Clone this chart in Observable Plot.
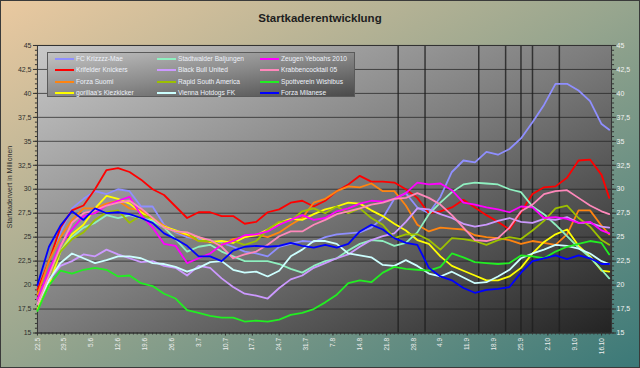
<!DOCTYPE html>
<html>
<head>
<meta charset="utf-8">
<script src="https://cdn.jsdelivr.net/npm/d3@7"></script>
<script src="https://cdn.jsdelivr.net/npm/@observablehq/plot@0.6"></script>
<style>
html,body{margin:0;padding:0;background:#fff;}
#chart{position:relative;width:640px;height:368px;box-sizing:border-box;border:1px solid #3a3a3a;
  background:linear-gradient(to bottom right,#eac9a0 0%,#96a58e 50%,#3b7978 100%);
  font-family:"Liberation Sans",Arial,sans-serif;overflow:hidden;}
#title{position:absolute;left:-1px;top:-1px;width:640px;height:30px;text-align:center;line-height:37px;
  font-size:11.5px;font-weight:bold;color:#1e1e1e;}
#plot{position:absolute;left:-1px;top:29px;}
#ylabel{position:absolute;left:-91px;top:181px;width:200px;text-align:center;font-size:7px;color:#2e2e2e;
  transform:rotate(-90deg);transform-origin:50% 50%;line-height:10px;}
#legend{position:absolute;left:46px;top:51px;width:308px;height:45px;box-sizing:border-box;
  border:1px solid #5a5a5a;background:linear-gradient(to bottom right,#c2c2c2 0%,#8a8a8a 50%,#4a4a4a 100%);}
.li{position:absolute;height:10px;font-size:6.6px;line-height:10px;color:#eef2fa;white-space:nowrap;}
.li span.sw{position:absolute;left:0;top:4px;width:19px;height:2px;}
.li span.tx{position:absolute;left:21px;top:0;}
</style>
</head>
<body>
<div id="chart">
  <div id="title">Startkaderentwicklung</div>
  <div id="plot"></div>
  <div id="ylabel">Startkaderwert in Millionen</div>
  <div id="legend"></div>
</div>
<script>
// sample days (offset from 22.5.)
const days = [0,3,6,9,12,15,18,21,24,27,30,33,36,39,42,45,48,51,54,57,60,63,66,69,72,75,78,81,84,87,90,93,96,99,102,105,108,111,114,117,120,123,126,129,132,135,138,141,144,147,149];

const names = ["FC Krizzzz-Mae","Krifelder Knickers","Forza Suomi","gorillaa's Kiezkicker",
  "Stadtwalder Baljungen","Black Bull United","Rapid South America","Vienna Hotdogs FK",
  "Zeugen Yeboahs 2010","Krabbencocktail 05","Spottverein Wishibus","Forza Milanese"];
const colors = ["#8f8fff","#ff0000","#ff8410","#ffff00","#8ff0c0","#cc99ff","#9cc000","#ccffff","#ff00ff","#ff88bb","#22ee22","#0000ff"];

const krizzzz = [19.5,22.5,25.5,28.0,29.0,29.8,29.5,30.0,29.8,28.2,28.2,26.3,25.5,25.0,24.8,24.6,24.4,24.0,23.5,23.3,23.0,24.0,24.3,24.6,24.5,25.0,25.3,25.4,25.5,26.0,27.0,29.0,29.6,28.1,27.5,29.2,31.8,33.0,32.8,33.9,33.6,34.2,35.3,37.0,38.8,41.0,41.0,40.3,39.2,36.8,36.2];
const krifelder = [19.5,22.5,26.0,27.8,28.3,30.0,32.0,32.2,31.8,31.0,30.0,29.4,28.2,27.0,27.6,27.6,27.2,27.2,26.4,26.6,27.6,27.9,28.6,28.8,28.2,28.8,29.8,30.5,31.4,30.8,30.8,30.7,30.0,29.1,27.5,27.7,28.1,28.9,28.1,27.3,26.6,25.8,27.6,29.5,30.2,30.3,31.2,33.0,33.1,31.5,29.1];
const suomi = [19.0,22.5,25.0,26.8,28.0,28.0,28.5,28.8,28.0,27.8,27.0,26.2,25.6,25.2,24.6,24.5,24.2,24.8,25.0,25.3,25.0,25.5,26.3,27.0,28.6,29.0,29.8,30.3,30.2,30.6,29.8,29.8,28.3,26.3,25.6,26.0,25.9,25.8,25.2,25.0,24.9,24.7,24.3,24.6,24.4,24.2,25.3,27.8,27.8,26.2,25.3];
const gorillaa = [17.5,20.0,23.5,25.3,26.3,28.0,29.3,29.0,28.5,27.6,26.8,26.1,25.7,25.3,25.0,24.5,24.6,24.4,25.0,25.2,25.8,26.5,26.9,26.8,27.4,27.9,28.2,28.6,28.5,27.8,27.2,26.4,25.7,24.7,24.3,23.0,22.0,21.5,21.0,20.5,20.5,20.9,21.8,23.3,24.5,25.3,25.8,24.1,23.0,21.5,21.4];
const stadtwalder = [18.0,21.0,23.5,25.0,26.0,26.5,27.3,27.0,27.3,27.0,26.7,26.0,24.8,23.5,24.0,24.2,23.5,23.0,22.5,22.5,22.5,22.2,21.7,21.3,22.0,22.5,22.8,23.6,24.3,24.7,24.6,24.1,24.4,25.5,27.4,28.6,29.7,30.5,30.7,30.6,30.5,30.0,29.7,28.2,27.4,26.3,25.1,23.9,22.9,21.6,20.7];
const blackBull = [18.5,20.5,22.0,22.5,23.2,23.0,23.7,23.2,22.8,22.4,22.5,22.0,21.8,21.0,22.0,21.8,20.7,19.8,19.1,18.9,18.6,19.7,20.6,21.0,21.8,22.3,22.8,23.2,24.0,24.7,25.1,25.4,26.6,28.0,27.9,27.4,27.0,26.4,26.1,26.3,26.7,27.0,26.6,26.5,26.9,26.8,27.1,26.5,26.5,26.1,26.0];
const rapid = [18.5,21.0,23.5,24.8,25.5,26.8,27.6,27.8,26.5,27.3,27.0,26.0,25.6,25.5,24.6,24.6,24.2,24.6,24.2,24.6,25.8,26.6,26.7,27.7,28.0,27.5,28.2,27.5,28.0,27.0,26.3,24.9,25.3,25.3,24.7,23.7,24.9,24.8,24.6,24.2,24.7,25.0,24.8,25.7,26.7,28.0,28.3,27.0,26.1,24.7,24.2];
const vienna = [18.0,20.5,22.3,23.3,22.8,22.3,22.6,23.0,23.0,22.8,22.3,22.2,21.9,21.4,21.8,22.4,22.5,21.6,21.3,21.4,20.9,21.5,23.0,23.7,24.6,24.6,24.3,23.3,23.1,22.9,22.1,22.0,22.6,22.0,21.2,20.9,21.4,20.8,20.2,20.3,20.9,21.6,22.8,23.3,23.7,24.2,24.1,23.8,23.3,22.5,22.2];
const zeugen = [18.5,21.5,24.2,25.8,27.2,27.5,28.3,28.8,29.2,27.3,26.0,24.3,24.1,22.3,22.8,23.3,24.2,24.6,25.2,25.3,25.6,26.3,26.8,27.3,26.8,27.0,27.7,28.0,28.5,28.8,28.7,29.0,29.6,30.7,30.5,30.6,29.9,28.6,28.4,28.1,27.9,27.6,28.2,28.1,27.0,27.1,26.9,26.5,26.6,25.7,25.4];
const krabben = [18.0,21.0,24.0,26.5,27.5,27.8,28.3,28.6,28.8,28.0,27.0,26.0,25.6,25.5,25.0,24.7,24.0,22.8,23.2,23.5,24.2,25.1,25.6,25.6,26.3,26.8,27.4,27.7,28.0,28.4,28.6,29.0,29.1,29.6,29.1,28.4,27.3,26.0,24.7,24.6,24.9,26.0,27.7,28.4,29.5,29.8,29.9,29.1,28.3,27.7,27.4];
const spott = [17.3,20.0,21.5,21.2,21.6,21.8,21.6,20.9,21.0,20.2,19.9,19.1,18.6,17.4,17.1,16.8,16.6,16.6,16.2,16.3,16.2,16.4,16.9,17.1,17.5,18.2,19.0,20.2,20.5,20.3,21.3,21.9,21.7,21.6,21.5,21.9,23.3,22.9,22.4,22.3,22.2,22.3,23.1,23.0,22.8,23.5,24.0,24.3,24.6,24.4,23.2];
const milanese = [20.0,24.0,26.2,27.7,26.8,28.0,27.5,27.6,27.4,27.0,26.5,25.4,24.8,24.1,23.0,23.0,22.5,23.6,24.0,24.1,24.0,24.1,24.4,24.1,23.9,24.2,23.9,24.3,25.6,26.3,25.8,24.9,24.4,24.2,21.8,20.9,20.5,19.7,19.2,19.5,19.6,19.8,21.3,22.5,22.8,23.1,22.7,23.1,22.8,22.2,22.2];

const seriesValues = [krizzzz,krifelder,suomi,gorillaa,stadtwalder,blackBull,rapid,vienna,zeugen,krabben,spott,milanese];

// x tick days (weekly) and marker lines (days)
const tickDays = [0,7,14,21,28,35,42,49,56,63,70,77,84,91,98,105,112,119,126,133,140,147];
const markerDays = [94,101,115,122,126,129,136];
const yTicks = [15,17.5,20,22.5,25,27.5,30,32.5,35,37.5,40,42.5,45];

const start = Date.UTC(2010,4,22);
const toDate = d => new Date(start + d*864e5);
const table = [];
names.forEach((n,i) => seriesValues[i].forEach((v,j) => table.push({team:n, date:toDate(days[j]), value:v})));
const fmtY = d => String(d).replace(".", ",");
const minorY = d3.range(15, 45.01, 0.5);
const dailyTicks = d3.range(0, 150, 1).map(toDate);

const chart = Plot.plot({
  width: 640, height: 338,
  marginLeft: 37, marginRight: 28, marginTop: 15, marginBottom: 35,
  style: {background: "transparent", fontFamily: "'Liberation Sans', Arial, sans-serif", overflow: "visible"},
  x: {type: "utc", domain: [toDate(0), toDate(149.6)]},
  y: {domain: [15, 45]},
  color: {type: "ordinal", domain: names, range: colors},
  marks: [
    Plot.frame({fill: "url(#pg)"}),
    Plot.gridY(yTicks, {stroke: "#1e1e1e", strokeOpacity: 0.7}),
    Plot.ruleX(markerDays.map(toDate), {stroke: "#1e1e1e", strokeWidth: 1.5, strokeOpacity: 0.8}),
    Plot.frame({stroke: "#333"}),
    Plot.axisY(minorY, {anchor: "left", tickSize: 2, tickFormat: () => "", stroke: "#333", label: null}),
    Plot.axisY(minorY, {anchor: "right", tickSize: 2, tickFormat: () => "", stroke: "#333", label: null}),
    Plot.axisY(yTicks, {anchor: "left", tickSize: 4, tickPadding: 2, tickFormat: fmtY, fontSize: 7, fill: "#2e2e2e", stroke: "#333", label: null}),
    Plot.axisY(yTicks, {anchor: "right", tickSize: 4, tickPadding: 1, tickFormat: fmtY, fontSize: 7, fill: "#f2f2f2", stroke: "#333", label: null}),
    Plot.axisX(dailyTicks, {anchor: "bottom", tickSize: 2, tickFormat: () => "", stroke: "#333", label: null}),
    Plot.axisX(tickDays.map(toDate), {anchor: "bottom", tickSize: 3, tickPadding: 2, tickRotate: -90, tickFormat: d3.utcFormat("%-d.%-m"), fontSize: 6.5, fill: "#eeeeee", stroke: "#333", label: null}),
    Plot.line(table, {x: "date", y: "value", z: "team", stroke: "team", strokeWidth: 1.8})
  ]
});

d3.select(chart).insert("defs", ":first-child").html(
  '<linearGradient id="pg" x1="0" y1="0" x2="1" y2="1">' +
  '<stop offset="0" stop-color="#c8c8c8"/><stop offset="0.5" stop-color="#7c7c7c"/><stop offset="1" stop-color="#232323"/>' +
  '</linearGradient>');
document.getElementById("plot").appendChild(chart);

// legend (3 columns x 4 rows, column-major)
const legend = document.getElementById("legend");
const colX = [7, 109, 212];
const rowY = [0.5, 12, 23.5, 35];
names.forEach((n, i) => {
  const c = Math.floor(i / 4), r = i % 4;
  const el = document.createElement("div");
  el.className = "li";
  el.style.left = colX[c] + "px";
  el.style.top = rowY[r] + "px";
  el.innerHTML = '<span class="sw" style="background:' + colors[i] + '"></span><span class="tx"></span>';
  el.querySelector(".tx").textContent = n;
  legend.appendChild(el);
});
</script>
</body>
</html>
